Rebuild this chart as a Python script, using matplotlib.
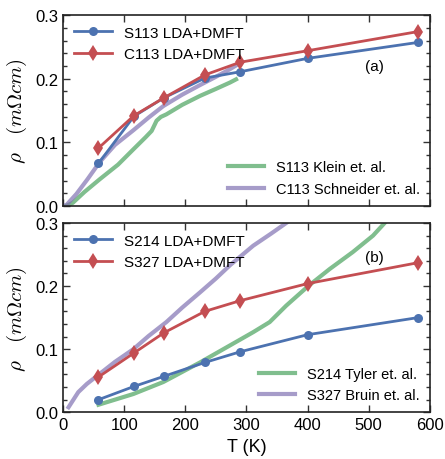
import numpy as np
import matplotlib.pyplot as plt

plt.rcParams['font.family'] = ['Liberation Sans', 'DejaVu Sans']
plt.rcParams['mathtext.fontset'] = 'cm'

# LDA+DMFT temperatures
T_dmft = [58, 116, 165, 232, 290, 400, 580]

# panel (a)
s113_dmft = [0.067, 0.141, 0.170, 0.201, 0.211, 0.232, 0.257]
c113_dmft = [0.091, 0.142, 0.170, 0.206, 0.226, 0.244, 0.274]
klein_T = [5, 16, 35, 60, 90, 115, 135, 145, 153, 160, 169, 195, 224, 250, 273, 283]
klein_rho = [0.0, 0.005, 0.022, 0.042, 0.065, 0.089, 0.108, 0.118, 0.134, 0.140, 0.144, 0.159,
             0.173, 0.184, 0.194, 0.199]
schn_T = [0, 6, 22, 40, 60, 85, 115, 140, 164, 195, 224, 250, 273, 292]
schn_rho = [0.0, 0.002, 0.019, 0.042, 0.069, 0.096, 0.119, 0.139, 0.157, 0.175, 0.190, 0.203,
            0.215, 0.226]

# panel (b)
s214_dmft = [0.020, 0.041, 0.057, 0.079, 0.096, 0.123, 0.150]
s327_dmft = [0.056, 0.094, 0.126, 0.160, 0.177, 0.204, 0.237]
tyler_T = [58, 115, 164, 224, 273, 311, 338, 365, 401, 436, 474, 507, 526]
tyler_rho = [0.012, 0.029, 0.048, 0.079, 0.106, 0.127, 0.143, 0.169, 0.200, 0.227, 0.254,
             0.280, 0.300]
bruin_T = [9, 25, 39, 60, 85, 115, 140, 169, 195, 224, 250, 273, 311, 340, 365]
bruin_rho = [0.008, 0.032, 0.045, 0.061, 0.080, 0.100, 0.121, 0.143, 0.166, 0.190, 0.212,
             0.233, 0.264, 0.283, 0.300]

blue = '#4C72B0'
red = '#C44E52'
green = '#55A868'
purple = '#8172B2'

fig = plt.figure(figsize=(4.45, 4.6), dpi=100)
ax1 = fig.add_axes([0.1416, 0.55, 0.8244, 0.415])
ax2 = fig.add_axes([0.1416, 0.1015, 0.8244, 0.4115])

def style(ax):
    ax.set_xlim(0, 600)
    ax.set_ylim(0, 0.3)
    ax.set_yticks([0.0, 0.1, 0.2, 0.3])
    ax.set_yticks(np.arange(0, 0.301, 0.02), minor=True)
    ax.set_xticks(range(0, 601, 100))
    ax.tick_params(which='both', direction='in', top=True, right=True, labelsize=12,
                   width=1, color='#333333')
    ax.tick_params(which='major', length=5)
    ax.tick_params(which='minor', length=3)
    for s in ax.spines.values():
        s.set_color('#222222')
        s.set_linewidth(1.2)
    ax.set_ylabel(r'$\rho\quad(m\Omega cm)$', fontsize=15, labelpad=4)

# (a)
d1, = ax1.plot(T_dmft, s113_dmft, '-o', color=blue, lw=2, ms=6.5, mew=0, label='S113 LDA+DMFT', zorder=4)
d2, = ax1.plot(T_dmft, c113_dmft, '-d', color=red, lw=2, ms=8, mew=0, label='C113 LDA+DMFT', zorder=5)
e1, = ax1.plot(klein_T, klein_rho, '-', color=green, lw=3, alpha=0.75, label='S113 Klein et. al.')
e2, = ax1.plot(schn_T, schn_rho, '-', color=purple, lw=3, alpha=0.7, label='C113 Schneider et. al.')
style(ax1)
ax1.set_xticklabels([])
leg = ax1.legend(handles=[d1, d2], loc='upper left', frameon=False, fontsize=11,
                 handlelength=2.5, borderaxespad=0.3)
ax1.add_artist(leg)
ax1.legend(handles=[e1, e2], loc='lower right', frameon=False, fontsize=10.5,
           handlelength=2.5, borderaxespad=0.3)
ax1.text(510, 0.22, '(a)', fontsize=11, ha='center', va='center')

# (b)
d3, = ax2.plot(T_dmft, s214_dmft, '-o', color=blue, lw=2, ms=6.5, mew=0, label='S214 LDA+DMFT', zorder=4)
d4, = ax2.plot(T_dmft, s327_dmft, '-d', color=red, lw=2, ms=8, mew=0, label='S327 LDA+DMFT', zorder=5)
e3, = ax2.plot(tyler_T, tyler_rho, '-', color=green, lw=3, alpha=0.75, label='S214 Tyler et. al.')
e4, = ax2.plot(bruin_T, bruin_rho, '-', color=purple, lw=3, alpha=0.7, label='S327 Bruin et. al.')
style(ax2)
ax2.set_xlabel('T (K)', fontsize=13)
leg = ax2.legend(handles=[d3, d4], loc='upper left', frameon=False, fontsize=11,
                 handlelength=2.5, borderaxespad=0.3)
ax2.add_artist(leg)
ax2.legend(handles=[e3, e4], loc='lower right', frameon=False, fontsize=10.5,
           handlelength=2.5, borderaxespad=0.3)
ax2.text(510, 0.246, '(b)', fontsize=11, ha='center', va='center')

fig.savefig('out.png', dpi=100)
